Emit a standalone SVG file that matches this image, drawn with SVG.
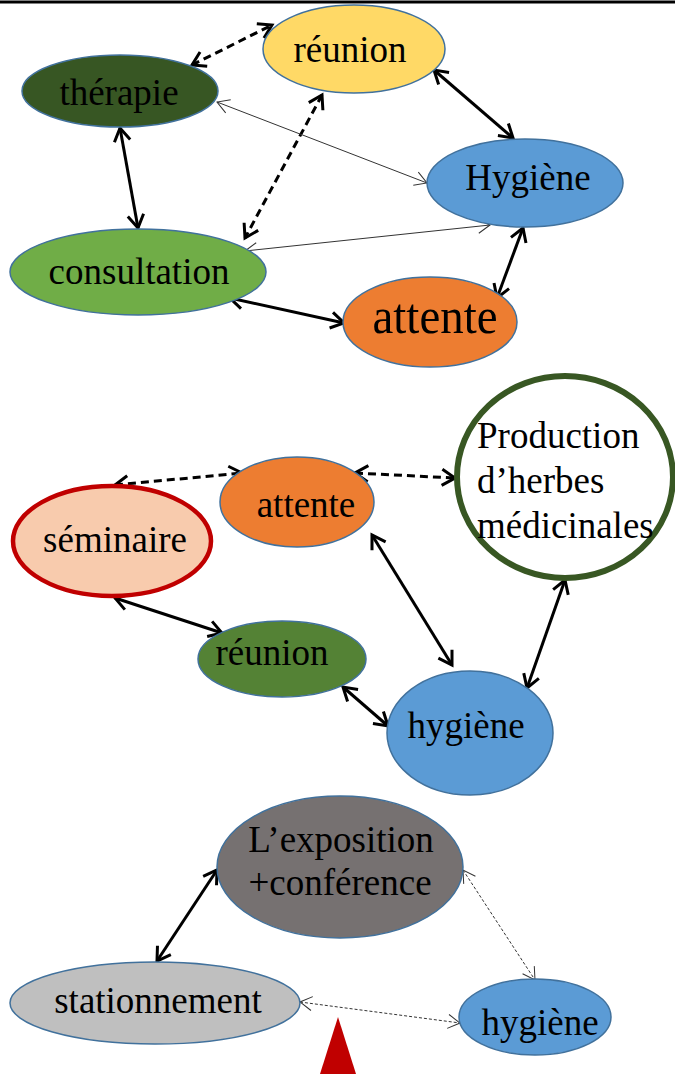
<svg xmlns="http://www.w3.org/2000/svg" width="675" height="1074" viewBox="0 0 675 1074">
<style>
.n{stroke:#41719C;stroke-width:1.5}
text{font-family:'Liberation Serif','Times New Roman',Times,serif;font-size:37px;fill:#000}
.t{text-anchor:middle}
.thick{stroke:#000;stroke-width:3;fill:none;marker-start:url(#ah);marker-end:url(#ah)}
.dash{stroke:#000;stroke-width:3;fill:none;stroke-dasharray:8 5;marker-start:url(#ah);marker-end:url(#ah)}
.thin{stroke:#333;stroke-width:1;fill:none;marker-start:url(#ahs);marker-end:url(#ahs)}
.dot{stroke:#333;stroke-width:1;fill:none;stroke-dasharray:3 2;marker-start:url(#ahs);marker-end:url(#ahs)}
</style>
<defs>
<marker id="ah" markerUnits="userSpaceOnUse" viewBox="-16 -11 18 22" refX="0" refY="0" markerWidth="18" markerHeight="22" orient="auto-start-reverse" overflow="visible">
<path d="M-13,-8 L0,0 L-13,8" fill="none" stroke="#000" stroke-width="3" stroke-linejoin="miter"/>
</marker>
<marker id="ahs" markerUnits="userSpaceOnUse" viewBox="-14 -9 16 18" refX="0" refY="0" markerWidth="16" markerHeight="18" orient="auto-start-reverse" overflow="visible">
<path d="M-12,-7 L0,0 L-12,7" fill="none" stroke="#333" stroke-width="1"/>
</marker>
</defs>
<rect x="0" y="0" width="675" height="1074" fill="#fff"/>
<line x1="0" y1="2" x2="675" y2="2" stroke="#000" stroke-width="3"/>

<g id="connectors">
<line class="dash" x1="192" y1="65" x2="272" y2="25"/>
<line class="dash" x1="322" y1="95" x2="245" y2="238"/>
<line class="thick" x1="434" y1="70" x2="513" y2="138"/>
<line class="thick" x1="120" y1="128" x2="138" y2="228"/>
<line class="thin" x1="217" y1="102" x2="427" y2="183"/>
<line class="thin" x1="245" y1="251" x2="490" y2="225"/>
<line class="thick" x1="523" y1="228" x2="497" y2="298"/>
<line class="thick" x1="230" y1="298" x2="344" y2="323"/>

<line class="dash" x1="115" y1="485" x2="242" y2="473"/>
<line class="dash" x1="355" y1="473" x2="455" y2="478"/>
<line class="thick" x1="115" y1="598" x2="222" y2="633"/>
<line class="thick" x1="372" y1="535" x2="452" y2="665"/>
<line class="thick" x1="565" y1="580" x2="527" y2="688"/>
<line class="thick" x1="343" y1="687" x2="388" y2="726"/>

<line class="thick" x1="157" y1="961" x2="217" y2="870"/>
<line class="dot" x1="463" y1="870" x2="535" y2="980"/>
<line class="dot" x1="300" y1="1002" x2="460" y2="1023"/>
</g>

<g id="reunion1"><ellipse class="n" cx="354" cy="49" rx="91" ry="44" fill="#FFD966"/><text class="t" x="350" y="62">réunion</text></g>
<g id="therapie"><ellipse class="n" cx="120" cy="91" rx="98" ry="36" fill="#375623"/><text class="t" x="119" y="105">thérapie</text></g>
<g id="hygiene1"><ellipse class="n" cx="525" cy="183" rx="98" ry="44" fill="#5B9BD5"/><text class="t" x="528" y="190">Hygiène</text></g>
<g id="consultation"><ellipse class="n" cx="138" cy="272" rx="128" ry="43" fill="#70AD47"/><text class="t" x="139" y="284">consultation</text></g>
<g id="attente1"><ellipse class="n" cx="430" cy="322" rx="87" ry="45" fill="#ED7D31"/><text class="t" x="435" y="333" style="font-size:50px" textLength="125" lengthAdjust="spacingAndGlyphs">attente</text></g>

<g id="seminaire"><ellipse cx="112" cy="541" rx="99" ry="55" fill="#F8CBAD" stroke="#C00000" stroke-width="4.5"/><text class="t" x="115" y="552">séminaire</text></g>
<g id="attente2"><ellipse class="n" cx="297" cy="502" rx="77" ry="45" fill="#ED7D31"/><text class="t" x="306" y="517">attente</text></g>
<g id="production"><ellipse cx="565" cy="477" rx="108" ry="101" fill="#fff" stroke="#385723" stroke-width="6"/><text x="477" y="448">Production</text><text x="477" y="493">d’herbes</text><text x="477" y="538">médicinales</text></g>
<g id="reunion2"><ellipse class="n" cx="282" cy="659" rx="84" ry="38" fill="#548235"/><text class="t" x="272" y="665">réunion</text></g>
<g id="hygiene2"><ellipse class="n" cx="470" cy="733" rx="83" ry="62" fill="#5B9BD5"/><text class="t" x="466" y="738">hygiène</text></g>

<g id="exposition"><ellipse class="n" cx="340" cy="867" rx="123" ry="71" fill="#767171"/><text class="t" x="341" y="852">L’exposition</text><text class="t" x="340" y="895">+conférence</text></g>
<g id="stationnement"><ellipse class="n" cx="155" cy="1003" rx="145" ry="41" fill="#BFBFBF"/><text class="t" x="158" y="1013">stationnement</text></g>
<g id="hygiene3"><ellipse class="n" cx="535" cy="1017" rx="76" ry="38" fill="#5B9BD5"/><text class="t" x="540" y="1035">hygiène</text></g>

<polygon points="338,1017 320,1074 356,1074" fill="#C00000"/>
</svg>
